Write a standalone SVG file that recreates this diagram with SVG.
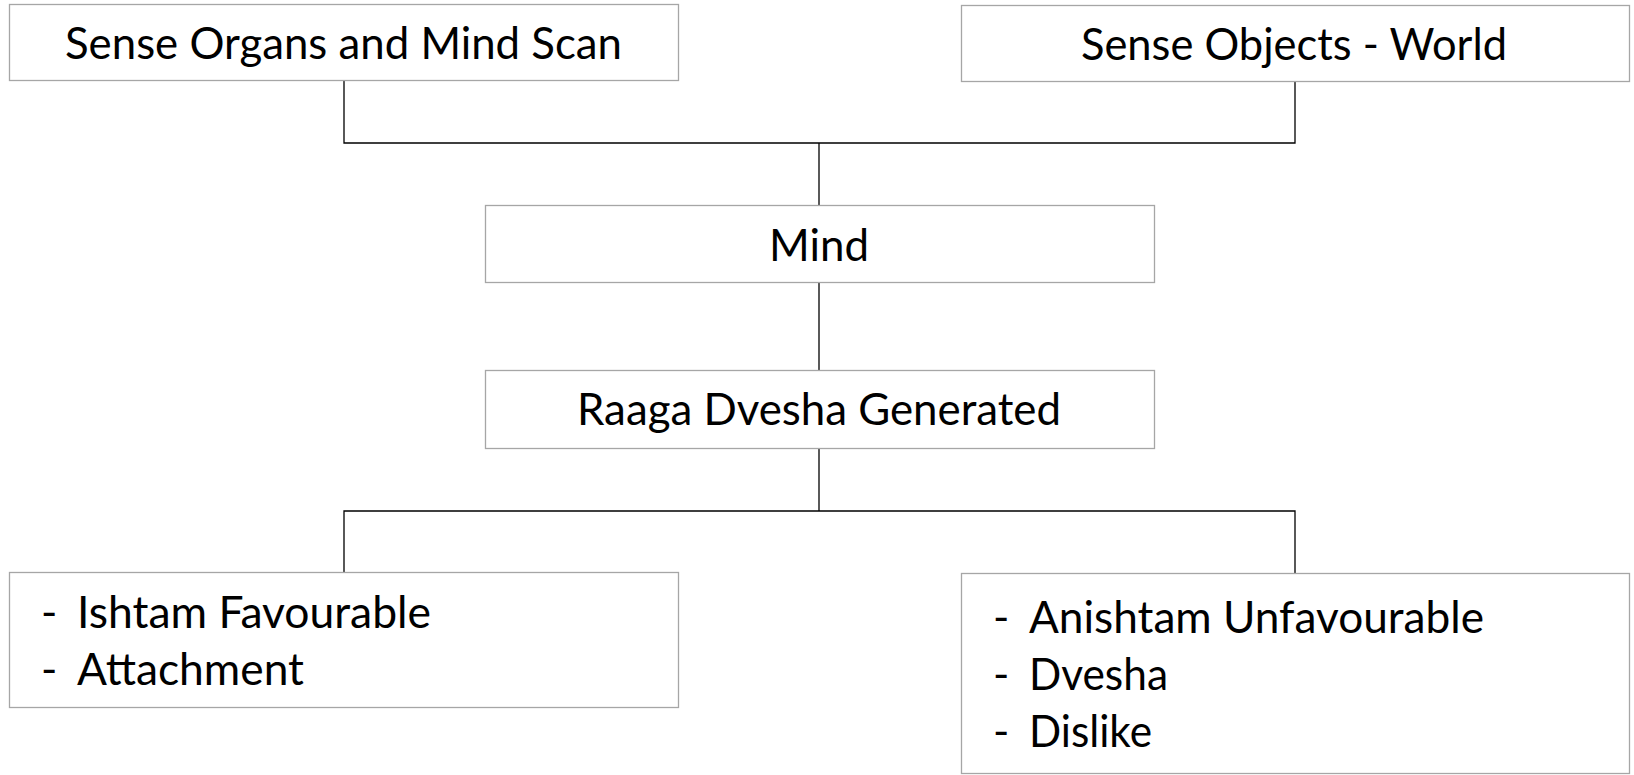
<svg xmlns="http://www.w3.org/2000/svg" width="1634" height="775" viewBox="0 0 1634 775">
  <style>
    .box { fill: #ffffff; stroke: #a6a6a6; stroke-width: 1.3; }
    .label { font-family: Lato, "Liberation Sans", sans-serif; font-size: 44px; fill: #000000; }
    .mid { text-anchor: middle; }
    .wire { fill: none; stroke: #000000; stroke-width: 1.3; }
  </style>
  <rect width="1634" height="775" fill="#ffffff"/>

  <!-- connectors -->
  <g id="connectors">
    <path class="wire" d="M344,80 V143 H1295 V81"/>
    <path class="wire" d="M819,143 V205"/>
    <path class="wire" d="M819,282 V370"/>
    <path class="wire" d="M819,448 V511"/>
    <path class="wire" d="M344,572 V511 H1295 V573"/>
  </g>

  <g id="sense-organs">
    <rect class="box" x="9.5" y="4.5" width="669" height="76"/>
    <text class="label mid" x="343.5" y="59" textLength="557" lengthAdjust="spacingAndGlyphs">Sense Organs and Mind Scan</text>
  </g>

  <g id="sense-objects">
    <rect class="box" x="961.5" y="5.5" width="668" height="76"/>
    <text class="label mid" x="1294" y="60" textLength="426" lengthAdjust="spacingAndGlyphs">Sense Objects - World</text>
  </g>

  <g id="mind">
    <rect class="box" x="485.5" y="205.5" width="669" height="77"/>
    <text class="label mid" x="819" y="261" textLength="100" lengthAdjust="spacingAndGlyphs">Mind</text>
  </g>

  <g id="raaga-dvesha">
    <rect class="box" x="485.5" y="370.5" width="669" height="78"/>
    <text class="label mid" x="819" y="425" textLength="484" lengthAdjust="spacingAndGlyphs">Raaga Dvesha Generated</text>
  </g>

  <g id="ishtam">
    <rect class="box" x="9.5" y="572.5" width="669" height="135"/>
    <text class="label" x="41" y="628">-</text>
    <text class="label" x="77" y="628" textLength="354" lengthAdjust="spacingAndGlyphs">Ishtam Favourable</text>
    <text class="label" x="41" y="685">-</text>
    <text class="label" x="77" y="685" textLength="227" lengthAdjust="spacingAndGlyphs">Attachment</text>
  </g>

  <g id="anishtam">
    <rect class="box" x="961.5" y="573.5" width="668" height="200"/>
    <text class="label" x="993" y="633">-</text>
    <text class="label" x="1029" y="633" textLength="455" lengthAdjust="spacingAndGlyphs">Anishtam Unfavourable</text>
    <text class="label" x="993" y="690">-</text>
    <text class="label" x="1029" y="690" textLength="139" lengthAdjust="spacingAndGlyphs">Dvesha</text>
    <text class="label" x="993" y="747">-</text>
    <text class="label" x="1029" y="747" textLength="123" lengthAdjust="spacingAndGlyphs">Dislike</text>
  </g>
</svg>
